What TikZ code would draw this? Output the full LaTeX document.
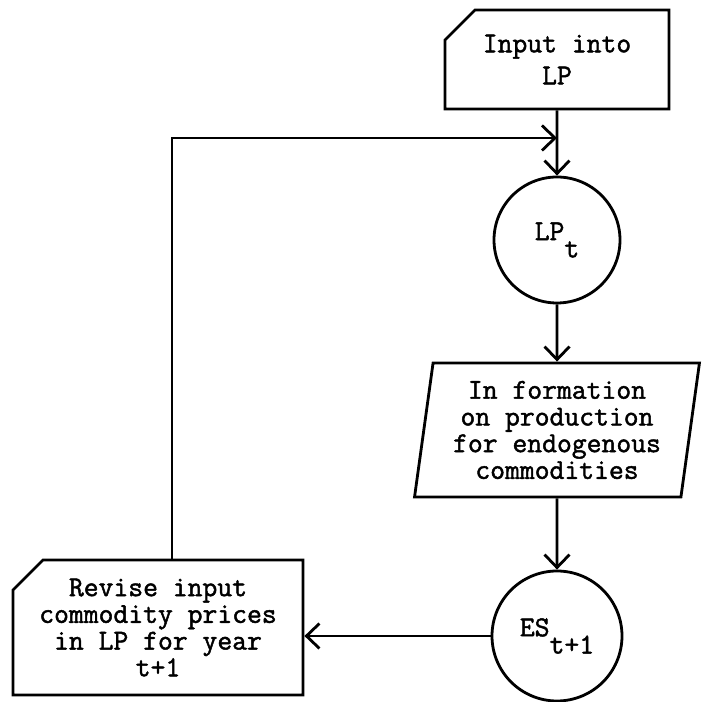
\documentclass[tikz,border=0pt]{standalone}
\usepackage{fontspec}
\setmonofont{Latin Modern Mono}[FakeBold=1.6]
\usetikzlibrary{shapes.geometric,shapes.misc,arrows.meta}

\tikzset{
  flow/.style={line width=1.6pt, -{Straight Barb[length=0.26cm, width=0.5cm, line width=1.6pt]}},
  card/.style={chamfered rectangle, chamfered rectangle corners=north west,
    chamfered rectangle xsep=0.3cm, chamfered rectangle ysep=0.3cm,
    draw, line width=1.6pt, align=center, inner sep=0pt},
  state/.style={circle, draw, line width=1.6pt, inner sep=0pt},
  iobox/.style={trapezium, trapezium left angle=81, trapezium right angle=99,
    trapezium stretches=true, draw, line width=1.6pt, align=center, inner sep=0pt}
}
\newcommand{\low}[1]{\raisebox{-0.6em}{#1}}

\begin{document}
\begin{tikzpicture}[font=\ttfamily\fontsize{16.4}{15.2}\selectfont]
\useasboundingbox (0,0) rectangle (14.06,14.04);

\node[card, minimum width=4.48cm, minimum height=1.98cm] (input) at (11.14,12.85) {Input into\\[3pt]LP};
\node[state, minimum size=2.52cm] (lp) at (11.14,9.24) {LP\low{t}};
\node[iobox, minimum width=5.7cm, minimum height=2.68cm] (info) at (11.14,5.44)
  {In formation\\on production\\for endogenous\\commodities};
\node[state, minimum size=2.6cm] (es) at (11.14,1.32) {ES\low{t+1}};
\node[card, minimum width=5.8cm, minimum height=2.7cm] (revise) at (3.16,1.49)
  {Revise input\\commodity prices\\in LP for year\\t+1};
\coordinate (fb) at (3.44,11.28);

\draw[flow] (input) -- (lp);
\draw[flow] (lp) -- (info);
\draw[flow] (info) -- (es);
\draw[flow] (es.west) -- (es.west -| revise.east);
\draw[flow] (fb |- revise.north) -- (fb) -- (fb -| input.south);
\end{tikzpicture}
\end{document}
